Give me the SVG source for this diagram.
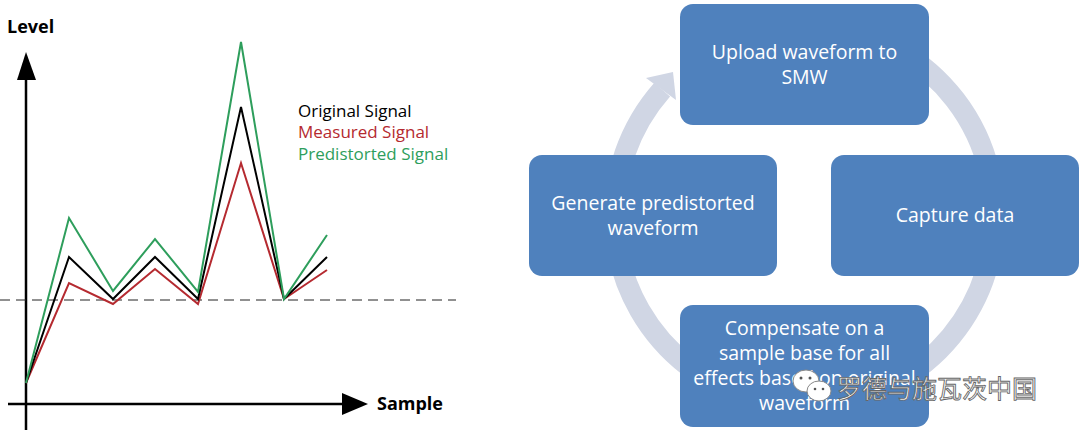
<svg xmlns="http://www.w3.org/2000/svg" width="1080" height="435" viewBox="0 0 1080 435">
<style>
.axis{stroke:#000;stroke-width:2.5;fill:none}
.sig{fill:none;stroke-width:2;stroke-linejoin:miter}
.lbl{font-family:"Open Sans","Liberation Sans",sans-serif;font-weight:bold;font-size:18px;fill:#000}
.leg{font-family:"Open Sans","Liberation Sans",sans-serif;font-size:17px}
.box{fill:#4f81bd}
.bt{font-family:"Open Sans","Liberation Sans",sans-serif;font-size:19.5px;fill:#fff;text-anchor:middle}
.wm{font-family:"Noto Sans CJK SC",sans-serif;font-size:25px;fill:#fff;stroke:#666;stroke-width:0.9}
</style>
<rect width="1080" height="435" fill="#fff"/>
<g id="chart">
  <line class="axis" x1="26" y1="78" x2="26" y2="430"/>
  <polygon points="26,52 17,80 36,80" fill="#000"/>
  <line class="axis" x1="8" y1="404" x2="344" y2="404"/>
  <polygon points="368,404 342,393 342,415" fill="#000"/>
  <line x1="0" y1="300" x2="456" y2="300" stroke="#222" stroke-width="1" stroke-dasharray="10,6"/>
  <polyline class="sig" stroke="#b52a30" points="26,383 69,283 113,304 155,269 198,304 241,163 284,299 327,270"/>
  <polyline class="sig" stroke="#000" points="26,383 69,257 113,299 155,257 198,299 241,107 284,299 327,257"/>
  <polyline class="sig" stroke="#2e9e5c" points="26,383 69,218 113,291 155,239 198,292 241,42 284,299 327,235"/>
  <text class="lbl" x="7" y="33">Level</text>
  <text class="lbl" x="377" y="410">Sample</text>
  <text class="leg" x="298" y="117" fill="#000">Original Signal</text>
  <text class="leg" x="298" y="138" fill="#b52a30">Measured Signal</text>
  <text class="leg" x="298" y="160" fill="#2e9e5c">Predistorted Signal</text>
</g>
<g id="connectors">
  <path d="M 899.5 51 A 190 190 0 1 1 662.2 89.6" fill="none" stroke="#d0d6e4" stroke-width="21"/>
  <polygon points="646,78 673,72 676,100" fill="#d0d6e4"/>
</g>
<g id="node-upload">
  <rect class="box" x="680" y="4" width="249" height="121" rx="13"/>
  <text class="bt" x="804.5" y="59">Upload waveform to</text>
  <text class="bt" x="804.5" y="84">SMW</text>
</g>
<g id="node-capture">
  <rect class="box" x="831" y="155" width="248" height="121" rx="13"/>
  <text class="bt" x="955" y="222">Capture data</text>
</g>
<g id="node-compensate">
  <rect class="box" x="680" y="305" width="249" height="122" rx="13"/>
  <text class="bt" x="804.5" y="335">Compensate on a</text>
  <text class="bt" x="804.5" y="360">sample base for all</text>
  <text class="bt" x="804.5" y="385">effects based on original</text>
  <text class="bt" x="804.5" y="410">waveform</text>
</g>
<g id="node-generate">
  <rect class="box" x="529" y="155" width="248" height="121" rx="13"/>
  <text class="bt" x="653" y="210">Generate predistorted</text>
  <text class="bt" x="653" y="235">waveform</text>
</g>
<g id="watermark">
  <ellipse cx="806" cy="381" rx="13" ry="11" fill="#fff" stroke="#888" stroke-width="1"/>
  <ellipse cx="819" cy="391" rx="12" ry="10" fill="#fff" stroke="#888" stroke-width="1"/>
  <circle cx="801" cy="378" r="1.5" fill="#555"/><circle cx="810" cy="378" r="1.5" fill="#555"/>
  <circle cx="815" cy="389" r="1.3" fill="#555"/><circle cx="823" cy="389" r="1.3" fill="#555"/>
  <text class="wm" x="837" y="398">罗德与施瓦茨中国</text>
</g>
</svg>
